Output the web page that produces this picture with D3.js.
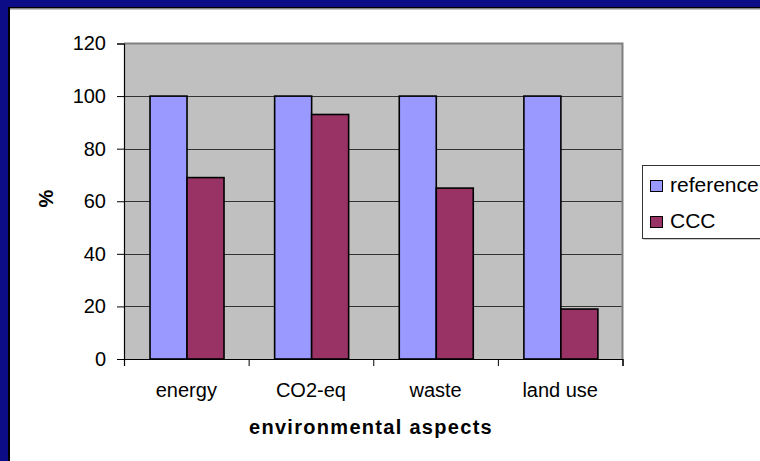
<!DOCTYPE html>
<html>
<head>
<meta charset="utf-8">
<script src="https://cdn.jsdelivr.net/npm/d3@7"></script>
<style>
  html, body { margin: 0; padding: 0; background: #fff; overflow: hidden; }
  svg { display: block; }
  text { font-family: "Liberation Sans", Arial, Helvetica, sans-serif; fill: #000; }
</style>
</head>
<body>
<svg id="chart" width="760" height="461"></svg>
<script>
// Environmental aspects, indexed to the reference process (= 100 %)
const categories = ["energy", "CO2-eq", "waste", "land use"];
const seriesNames = ["reference", "CCC"];
const referenceValues = [100, 100, 100, 100];
const cccValues = [69, 93, 65, 19];
const yTicks = [0, 20, 40, 60, 80, 100, 120];

const seriesValues = [referenceValues, cccValues];
const colors = ["#9999FF", "#993366"];

const W = 760, H = 461;
const plot = { left: 124, right: 622.5, top: 43.5, bottom: 359 };

const svg = d3.select("#chart");

// white page with a navy frame along the top and left edges
svg.append("rect").attr("x", 0).attr("y", 0).attr("width", W).attr("height", H).attr("fill", "#fff");
svg.append("rect").attr("x", 0).attr("y", 0).attr("width", W).attr("height", 7).attr("fill", "#0C0C86");
svg.append("rect").attr("x", 0).attr("y", 0).attr("width", 8).attr("height", H).attr("fill", "#0C0C86");
svg.append("rect").attr("x", 8).attr("y", 7).attr("width", W - 8).attr("height", 1.5).attr("fill", "#000");
svg.append("rect").attr("x", 8).attr("y", 8.5).attr("width", W - 8).attr("height", 1).attr("fill", "#8a8a8a");
svg.append("rect").attr("x", 8).attr("y", 7).attr("width", 2).attr("height", H - 7).attr("fill", "#000");

// scales
const x0 = d3.scaleBand().domain(categories).range([plot.left, plot.right]).paddingInner(0).paddingOuter(0);
const barW = 37;
const cw = x0.bandwidth();
const x1 = d3.scaleBand().domain(seriesNames).range([cw / 2 - barW + 0.7, cw / 2 + barW + 0.7]).padding(0);
const y = d3.scaleLinear().domain([0, 120]).range([plot.bottom, plot.top]);

// plot background
svg.append("rect")
  .attr("x", plot.left).attr("y", plot.top)
  .attr("width", plot.right - plot.left).attr("height", plot.bottom - plot.top)
  .attr("fill", "#C0C0C0");

// gridlines
svg.append("g").selectAll("line")
  .data(yTicks.filter(t => t > 0 && t < 120))
  .join("line")
  .attr("x1", plot.left).attr("x2", plot.right)
  .attr("y1", d => Math.round(y(d)) + 0.5).attr("y2", d => Math.round(y(d)) + 0.5)
  .attr("stroke", "#333").attr("stroke-width", 1);

// plot border (top and right)
svg.append("path")
  .attr("d", `M${plot.left},${plot.top} H${plot.right} V${plot.bottom}`)
  .attr("fill", "none").attr("stroke", "#808080").attr("stroke-width", 2);

// bars
const groups = svg.append("g").selectAll("g")
  .data(categories)
  .join("g")
  .attr("transform", d => `translate(${x0(d)},0)`);

groups.selectAll("rect")
  .data((d, i) => seriesNames.map((s, j) => ({ s, j, v: seriesValues[j][i] })))
  .join("rect")
  .attr("x", d => x1(d.s))
  .attr("y", d => y(d.v))
  .attr("width", x1.bandwidth())
  .attr("height", d => y(0) - y(d.v))
  .attr("fill", d => colors[d.j])
  .attr("stroke", "#000").attr("stroke-width", 1.6);

// y axis
const yAxis = svg.append("g")
  .attr("transform", `translate(${plot.left},0)`)
  .call(d3.axisLeft(y).tickValues(yTicks).tickSize(7).tickPadding(11).tickFormat(d3.format("d")));
yAxis.select(".domain").attr("stroke", "#000").attr("stroke-width", 1.2);
yAxis.selectAll(".tick line").attr("stroke", "#000");
yAxis.selectAll("text").style("font-size", "20px").attr("fill", "#000");

// x axis: boundary tick marks
const xb = d3.scaleLinear().domain([0, categories.length]).range([plot.left, plot.right]);
const xAxis = svg.append("g")
  .attr("transform", `translate(0,${plot.bottom})`)
  .call(d3.axisBottom(xb).tickValues(d3.range(categories.length + 1)).tickSize(7).tickFormat(""));
xAxis.select(".domain").attr("stroke", "#000").attr("stroke-width", 1.2);
xAxis.selectAll(".tick line").attr("stroke", "#000");

// x axis: category labels
const xLabels = svg.append("g")
  .attr("transform", `translate(0,${plot.bottom})`)
  .call(d3.axisBottom(x0).tickSize(0).tickPadding(24));
xLabels.select(".domain").remove();
xLabels.selectAll("text").style("font-size", "20px").attr("fill", "#000");

// axis titles
svg.append("text")
  .attr("x", 371).attr("y", 434)
  .attr("text-anchor", "middle")
  .style("font-size", "20px").style("font-weight", "bold").style("letter-spacing", "1.3px")
  .text("environmental aspects");

svg.append("text")
  .attr("transform", "translate(53,198.5) rotate(-90)")
  .attr("text-anchor", "middle")
  .style("font-size", "20px").style("font-weight", "bold")
  .text("%");

// legend
const lg = svg.append("g").attr("transform", "translate(642,165)");
lg.append("rect").attr("x", 1.5).attr("y", 1.5).attr("width", 200).attr("height", 73).attr("fill", "#9a9a9a");
lg.append("rect").attr("x", 0.5).attr("y", 0.5).attr("width", 200).attr("height", 73)
  .attr("fill", "#fff").attr("stroke", "#333").attr("stroke-width", 1);
const items = lg.selectAll("g.item")
  .data(seriesNames)
  .join("g").attr("class", "item")
  .attr("transform", (d, i) => `translate(0,${i * 36})`);
items.append("rect")
  .attr("x", 8.5).attr("y", 15.5).attr("width", 12).attr("height", 11)
  .attr("fill", (d, i) => colors[i]).attr("stroke", "#000").attr("stroke-width", 1);
items.append("text")
  .attr("x", 28).attr("y", 27)
  .style("font-size", "21px")
  .text(d => d);
</script>
</body>
</html>
